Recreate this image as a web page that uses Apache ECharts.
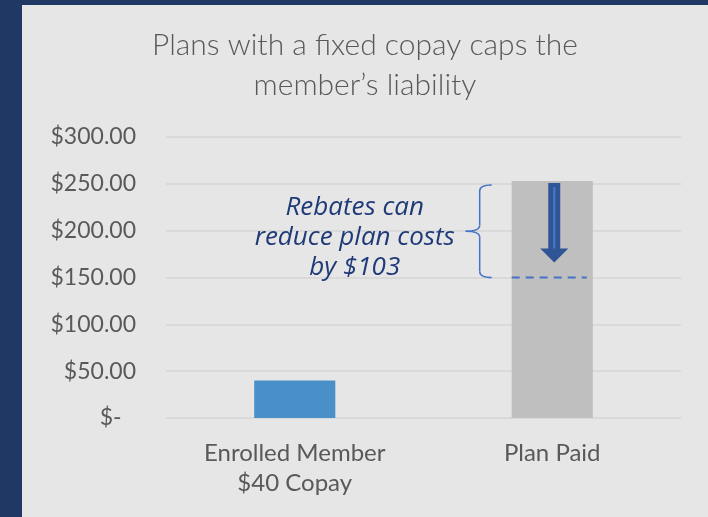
<!DOCTYPE html>
<html>
<head>
<meta charset="utf-8">
<script src="https://cdn.jsdelivr.net/npm/echarts@6/dist/echarts.min.js"></script>
<style>
  html, body { margin: 0; padding: 0; width: 708px; height: 517px; background: #1f3864; overflow: hidden; }
  #chart { position: absolute; left: 22px; top: 5px; width: 686px; height: 512px; background: #e7e6e6; }
</style>
</head>
<body>
<div id="chart"></div>
<script>
const categories = ['Enrolled Member\n$40 Copay', 'Plan Paid']
const values = [40, 253]
const barColors = ['#4a90c8', '#bfbfbf']
const rebate = 103
const yMax = 300
const yInterval = 50
const noteLines = ['Rebates can', 'reduce plan costs', 'by $103']

const chart = echarts.init(document.getElementById('chart'))
const font = 'Lato, "Noto Sans", sans-serif'

const option = {
    animation: false,
    title: {
        text: 'Plans with a fixed copay caps the\nmember\u2019s liability',
        left: 'center',
        top: 20,
        padding: 0,
        textStyle: {
            fontFamily: font,
            fontWeight: 300,
            fontSize: 30,
            lineHeight: 40,
            color: '#595959'
        }
    },
    grid: { left: 144, right: 27, top: 132, bottom: 99, containLabel: false },
    xAxis: {
        type: 'category',
        data: categories,
        axisLine: { show: false },
        axisTick: { show: false },
        axisLabel: {
            margin: 20,
            fontFamily: font,
            fontSize: 24,
            lineHeight: 30,
            color: '#595959'
        }
    },
    yAxis: {
        type: 'value',
        min: 0,
        max: yMax,
        interval: yInterval,
        axisLine: { show: false },
        axisTick: { show: false },
        splitLine: { lineStyle: { color: '#d9d9d9', width: 2 } },
        axisLabel: {
            margin: 30,
            fontFamily: font,
            fontSize: 23,
            color: '#595959',
            formatter: (v) => v === 0 ? '$-\u2002\u2009' : '$' + v.toFixed(2)
        }
    },
    series: [{
        type: 'bar',
        barWidth: '31.5%',
        data: values.map((v, i) => ({ value: v, itemStyle: { color: barColors[i] } }))
    }]
}
chart.setOption(option)

// annotation: brace, dashed line, arrow and note, placed from the data scale
const yPaid = chart.convertToPixel({ yAxisIndex: 0 }, values[1])
const yAfter = chart.convertToPixel({ yAxisIndex: 0 }, values[1] - rebate)
const x0 = chart.convertToPixel({ xAxisIndex: 0 }, categories[0])
const x1 = chart.convertToPixel({ xAxisIndex: 0 }, categories[1])
const barW = (x1 - x0) * 0.315
const barLeft = x1 - barW / 2
const barRight = x1 + barW / 2

const bTop = yPaid + 4
const bBot = yAfter
const bMid = (bTop + bBot) / 2
const vx = barLeft - 32
const tipX = barLeft - 20
const midX = barLeft - 46
const r = 6
const braceStyle = { fill: null, stroke: '#4472c4', lineWidth: 1.5 }
const curve = (xa, ya, cx, cy, xb, yb) => ({
    type: 'bezierCurve',
    shape: { x1: xa, y1: ya, cpx1: cx, cpy1: cy, x2: xb, y2: yb },
    style: braceStyle
})
const seg = (xa, ya, xb, yb) => ({ type: 'line', shape: { x1: xa, y1: ya, x2: xb, y2: yb }, style: braceStyle })
const brace = [
    curve(tipX, bTop, vx, bTop, vx, bTop + r),
    seg(vx, bTop + r, vx, bMid - r),
    curve(vx, bMid - r, vx, bMid, midX, bMid),
    curve(midX, bMid, vx, bMid, vx, bMid + r),
    seg(vx, bMid + r, vx, bBot - r),
    curve(vx, bBot - r, vx, bBot, tipX, bBot)
]

const ax = x1 + 2
const shaftTop = yPaid + 2
const tipY = yAfter - 15
const headY = tipY - 14
const arrowPts = [
    [ax - 6, shaftTop], [ax + 6, shaftTop], [ax + 6, headY], [ax + 14, headY],
    [ax, tipY], [ax - 14, headY], [ax - 6, headY]
]

const noteX = midX - 111
const noteY = bMid + 6

chart.setOption({
    graphic: [
        ...brace,
        { type: 'line', z: 100, shape: { x1: barLeft, y1: yAfter, x2: barRight - 6, y2: yAfter },
          style: { stroke: '#4472c4', lineWidth: 2, lineDash: [8, 6] } },
        { type: 'polygon', z: 100, shape: { points: arrowPts }, style: { fill: '#2f5597' } },
        { type: 'line', z: 101, shape: { x1: ax, y1: shaftTop + 4, x2: ax, y2: headY }, style: { stroke: '#4a78c8', lineWidth: 2 } },
        ...noteLines.map((t, i) => ({
            type: 'text',
            z: 100,
            x: noteX,
            y: noteY + (i - 1) * 30,
            style: {
                text: t,
                align: 'center',
                verticalAlign: 'middle',
                fontFamily: '"Open Sans", Lato, sans-serif',
                fontStyle: 'italic',
                fontSize: 26,
                fill: '#1f3a78'
            }
        }))
    ]
})
</script>
</body>
</html>
